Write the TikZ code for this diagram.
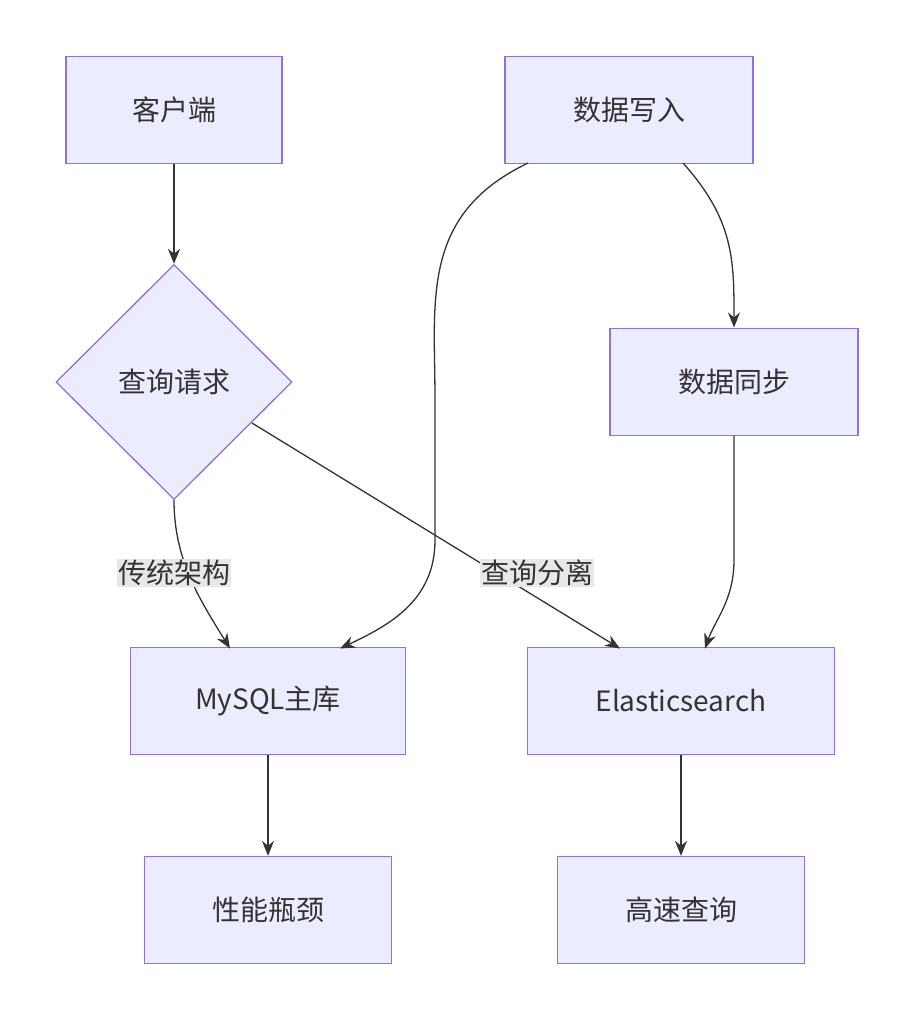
\documentclass[tikz,border=0pt]{standalone}
\usepackage{fontspec}
\setmainfont{Noto Sans CJK SC}
\usetikzlibrary{arrows.meta,shapes.geometric}
\definecolor{nfill}{HTML}{ECECFF}
\definecolor{nline}{HTML}{9370DB}
\definecolor{eline}{HTML}{333333}
\definecolor{lbg}{HTML}{E8E8E8}
\begin{document}
\begin{tikzpicture}[x=1pt,y=-1pt,
  box/.style={draw=nline,fill=nfill,line width=1.3pt,minimum width=#1,minimum height=107pt,inner sep=0pt,font=\fontsize{28}{32}\selectfont,text=eline},
  dia/.style={diamond,draw=nline,fill=nfill,line width=1.3pt,minimum width=236pt,minimum height=235pt,inner sep=0pt,font=\fontsize{28}{32}\selectfont,text=eline},
  edge/.style={draw=eline,line width=1.3pt,-{Stealth[length=15pt,width=12pt]}},
  lab/.style={fill=lbg,inner sep=1pt,font=\fontsize{28}{32}\selectfont,text=eline}]
\useasboundingbox[fill=white] (0,0) rectangle (913,1020);
\node[box=216pt] (c) at (174,110) {客户端};
\node[box=248pt] (w) at (629,110) {数据写入};
\node[dia] (q) at (174,382) {查询请求};
\node[box=248pt] (s) at (734,382) {数据同步};
\node[box=275pt] (m) at (268,701) {MySQL主库};
\node[box=307pt] (e) at (681,701) {Elasticsearch};
\node[box=247pt] (p) at (268,910) {性能瓶颈};
\node[box=247pt] (h) at (681,910) {高速查询};
\draw[edge] (c) -- (q);
\draw[edge] (q.south) .. controls (174,560) and (200,600) .. (230,648.5);
\draw[edge] (252,423) -- (620,648.5);
\draw[edge] (528,163) .. controls (420,215) and (435,300) .. (435,400) -- (435,540) .. controls (435,600) and (390,625) .. (340,648.5);
\draw[edge] (683,163) .. controls (734,220) and (734,260) .. (734,327.5);
\draw[edge] (734,435.5) -- (734,560) .. controls (734,600) and (715,620) .. (705,648.5);
\draw[edge] (m) -- (p);
\draw[edge] (e) -- (h);
\node[lab] (l1) at (174,573) {传统架构};
\node[lab] (l2) at (537,573) {查询分离};
\end{tikzpicture}
\end{document}
